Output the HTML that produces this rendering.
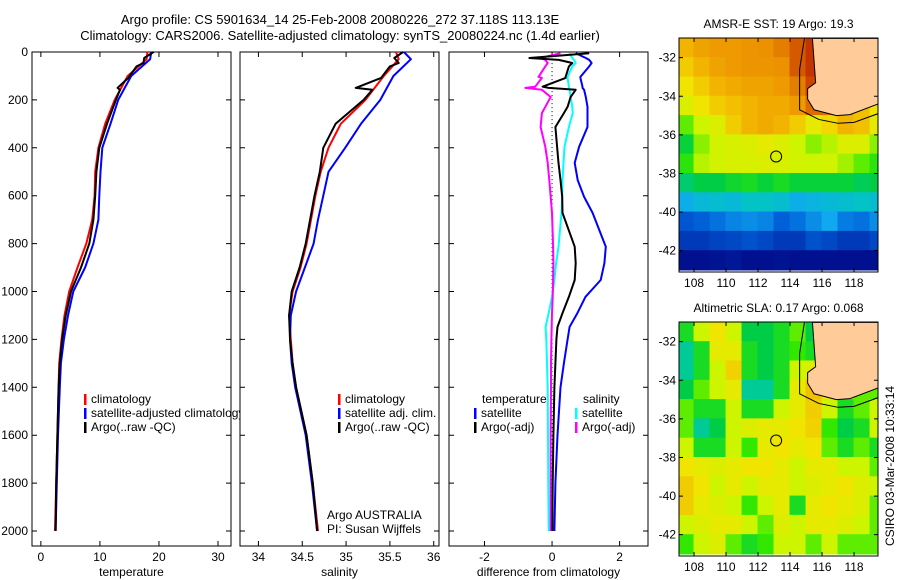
<!DOCTYPE html>
<html><head><meta charset="utf-8">
<style>
html,body{margin:0;padding:0;background:#fff;}
svg{display:block;font-family:"Liberation Sans",sans-serif;}
text{font-size:12px;fill:#000;}
</style></head>
<body>
<svg id="fig" width="900" height="580" viewBox="0 0 900 580" xmlns="http://www.w3.org/2000/svg">
<text x="340" y="24" text-anchor="middle" style="font-size:13px">Argo profile: CS 5901634_14 25-Feb-2008 20080226_272 37.118S 113.13E</text>
<text x="340" y="40" text-anchor="middle" style="font-size:13px">Climatology: CARS2006. Satellite-adjusted climatology: synTS_20080224.nc (1.4d earlier)</text>
<g id="g"></g>
<text transform="translate(894,466) rotate(-90)" text-anchor="middle" style="font-size:12px">CSIRO 03-Mar-2008 10:33:14</text>
</svg>
<script>
// ---------- profile data ----------
const depthClim=[0,30,100,200,300,400,500,600,700,800,900,1000,1100,1200,1300,1400,1600,1800,2000];
const tempClim=[18.05,17.9,14.7,12.5,10.9,9.75,9.2,9.1,8.7,7.7,6.2,4.8,4.0,3.5,3.1,3.0,2.8,2.6,2.4];
const tempSat=[18.7,18.5,15.3,13.1,11.8,10.4,10.1,9.9,9.75,8.9,7.5,5.5,4.6,3.9,3.4,3.2,2.9,2.7,2.5];
const depthArgo=[0,25,46,60,108,150,158,200,300,400,500,600,700,800,900,1000,1100,1200,1300,1400,1600,1800,2000];
const tempArgo=[19.1,17.5,17.4,16.2,14.8,13.0,13.4,12.7,11.2,9.9,9.4,9.2,8.9,8.2,6.8,5.1,4.2,3.6,3.2,3.0,2.8,2.6,2.5];
const salClim=[35.57,35.6,35.43,35.22,34.94,34.8,34.71,34.65,34.6,34.55,34.48,34.39,34.35,34.37,34.39,34.43,34.55,34.62,34.68];
const salSat=[35.66,35.74,35.54,35.39,35.17,34.99,34.8,34.74,34.68,34.63,34.53,34.43,34.37,34.36,34.38,34.42,34.54,34.61,34.67];
const salArgo=[35.65,35.55,35.6,35.5,35.4,35.11,35.3,35.2,34.88,34.74,34.7,34.64,34.59,34.54,34.47,34.38,34.35,34.36,34.39,34.43,34.55,34.62,34.67];
const depthDiff=[5,25,33,46,60,104,108,145,150,158,188,229,255,313,396,463,535,605,672,813,882,952,1022,1090,1148,1200,1300,1400,1600,1800,2000];
const diffTempSat=[0.7,1.0,1.1,1.17,1.1,0.84,0.84,0.9,0.9,0.95,1.0,1.05,1.05,1.05,0.8,0.67,0.76,0.95,1.2,1.59,1.55,1.44,0.99,0.75,0.52,0.46,0.35,0.25,0.16,0.1,0.07];
const diffTempArgo=[1.1,-0.67,0.2,0.6,0.5,0.4,0.4,-0.28,-0.1,0.7,0.55,0.46,0.35,0.1,0.15,0.19,0.25,0.3,0.31,0.67,0.7,0.67,0.5,0.31,0.16,0.13,0.1,0.07,0.04,0.02,0.01];
const diffSalSat=[0.52,0.6,0.65,0.7,0.6,0.46,0.46,0.5,0.5,0.52,0.55,0.6,0.61,0.5,0.37,0.34,0.31,0.3,0.28,0.19,0.12,0.07,0.0,-0.1,-0.19,-0.17,-0.15,-0.13,-0.12,-0.11,-0.1];
const diffSalArgo=[0.25,-0.34,-0.2,-0.13,-0.2,-0.4,-0.3,-0.5,-0.79,-0.3,-0.04,-0.2,-0.3,-0.34,-0.2,-0.13,-0.08,-0.04,0.0,0.03,0.04,0.03,0.02,0.0,-0.01,-0.02,-0.03,-0.03,-0.04,-0.04,-0.04];
const depthTicks=[0,200,400,600,800,1000,1200,1400,1600,1800,2000];
const tempTicks=[0,10,20,30];
const salTicks=[34,34.5,35,35.5,36];
const diffTicks=[-2,0,2];
// ---------- map data (rows lat -31.5..-42.5, cols lon 107..119) ----------
const mapLatTicks=[-32,-34,-36,-38,-40,-42];
const mapLonTicks=[108,110,112,114,116,118];
const sstRows=[
[.7,.74,.76,.76,.77,.78,.8,.84,.88,.95,.95,.95,.9],
[.66,.7,.74,.76,.77,.77,.78,.84,.88,.92,.9,.9,.9],
[.62,.66,.7,.72,.74,.74,.76,.8,.86,.88,.82,.8,.8],
[.58,.62,.66,.68,.7,.72,.72,.76,.82,.82,.74,.68,.62],
[.5,.55,.58,.66,.7,.72,.7,.66,.6,.64,.7,.68,.6],
[.43,.52,.56,.57,.58,.6,.58,.55,.52,.54,.58,.58,.52],
[.47,.54,.56,.57,.57,.58,.57,.56,.55,.56,.53,.5,.47],
[.4,.42,.42,.44,.45,.43,.45,.43,.43,.43,.43,.41,.42],
[.31,.33,.34,.33,.35,.35,.34,.31,.32,.33,.34,.35,.34],
[.2,.22,.24,.26,.27,.26,.22,.24,.27,.3,.25,.24,.27],
[.14,.14,.16,.17,.19,.17,.14,.14,.19,.17,.14,.14,.17],
[.04,.04,.05,.06,.04,.04,.05,.04,.04,.04,.04,.04,.04]];
const slaRows=[
[.45,.55,.62,.55,.42,.42,.45,.5,.42,.45,.5,.5,.5],
[.38,.45,.6,.6,.45,.42,.45,.48,.45,.5,.5,.5,.5],
[.38,.45,.55,.65,.45,.42,.45,.55,.58,.6,.5,.5,.5],
[.42,.5,.55,.6,.38,.38,.45,.6,.68,.6,.55,.5,.5],
[.5,.45,.45,.55,.45,.45,.55,.6,.66,.55,.45,.5,.55],
[.5,.38,.42,.55,.58,.6,.6,.62,.65,.48,.42,.45,.55],
[.55,.45,.45,.55,.48,.6,.62,.6,.62,.5,.45,.5,.45],
[.62,.6,.58,.6,.62,.62,.6,.55,.6,.6,.55,.55,.5],
[.66,.62,.55,.6,.55,.6,.6,.55,.58,.6,.62,.58,.55],
[.66,.6,.58,.55,.48,.55,.6,.45,.6,.62,.6,.58,.5],
[.55,.58,.6,.6,.55,.5,.58,.55,.6,.6,.58,.55,.5],
[.48,.55,.58,.5,.45,.48,.55,.55,.5,.55,.5,.5,.5]];
const landLon=[115.4,115.6,115.1,115.1,115.5,116.9,117.75,119.5,119.5];
const landLat=[-31,-33.3,-33.6,-34.15,-34.7,-35.0,-34.95,-34.4,-31];
const contLon=[114.9,114.6,114.6,115.8,117.0,118.0,119.5];
const contLat=[-31,-32.6,-34.7,-35.2,-35.4,-35.35,-34.9];
const argoLon=113.13, argoLat=-37.12;

const NS="http://www.w3.org/2000/svg";
const G=document.getElementById('g');
function mk(t,a,p){const e=document.createElementNS(NS,t);for(const k in a)e.setAttribute(k,a[k]);(p||G).appendChild(e);return e;}
const yD=d=>52+d*0.2395;
const Y0=52,Y1=546;
const panels=[
 {x0:32,x1:231,v0:-1.5,v1:32.2,name:'temperature-panel',label:'temperature',ticks:tempTicks},
 {x0:240,x1:439,v0:33.79,v1:36.06,name:'salinity-panel',label:'salinity',ticks:salTicks},
 {x0:449,x1:648,v0:-3.05,v1:2.84,name:'difference-panel',label:'difference from climatology',ticks:diffTicks}];
panels.forEach((p,i)=>{
  p.sx=v=>p.x0+(v-p.v0)/(p.v1-p.v0)*(p.x1-p.x0);
  const fr=mk('rect',{x:p.x0,y:Y0,width:p.x1-p.x0,height:Y1-Y0,fill:'none',stroke:'#000','stroke-width':1});
  
  
  p.ticks.forEach(t=>{const x=p.sx(t);
    const l=mk('path',{d:`M${x},${Y1}v-5M${x},${Y0}v5`,stroke:'#000'});
    
    
    const tx=mk('text',{x:x,y:Y1+15,'text-anchor':'middle'});tx.textContent=String(t);
    
    
  });
  depthTicks.forEach(d=>{const y=yD(d);
    const l=mk('path',{d:`M${p.x0},${y}h5M${p.x1},${y}h-5`,stroke:'#000'});
    
    
    if(i==0){const tx=mk('text',{x:28,y:y+4,'text-anchor':'end'});tx.textContent=String(d);
      
      }
  });
  const xl=mk('text',{x:(p.x0+p.x1)/2,y:576,'text-anchor':'middle'});xl.textContent=p.label;
  
  
});
function line(p,vals,deps,col,w,nm){
  const d=vals.map((v,k)=>(k?'L':'M')+p.sx(v).toFixed(1)+','+yD(deps[k]).toFixed(1)).join('');
  const e=mk('path',{d:d,fill:'none',stroke:col,'stroke-width':w,'stroke-linejoin':'round'});
  
  
}
const [P1,P2,P3]=panels;
line(P1,tempClim,depthClim,'#f00',2,'temp-climatology-line');
line(P1,tempSat,depthClim,'#00f',2,'temp-satellite-line');
line(P1,tempArgo,depthArgo,'#000',2,'temp-argo-line');
line(P2,salClim,depthClim,'#f00',2,'sal-climatology-line');
line(P2,salSat,depthClim,'#00f',2,'sal-satellite-line');
line(P2,salArgo,depthArgo,'#000',2,'sal-argo-line');
const z=mk('line',{x1:P3.sx(0),x2:P3.sx(0),y1:yD(30),y2:yD(2000),stroke:'#000','stroke-dasharray':'1,3'});


line(P3,diffTempSat,depthDiff,'#00f',2,'diff-temp-satellite-line');
line(P3,diffSalSat,depthDiff,'#0ff',2,'diff-sal-satellite-line');
line(P3,diffSalArgo,depthDiff,'#f0f',2,'diff-sal-argo-line');
line(P3,diffTempArgo,depthDiff,'#000',2,'diff-temp-argo-line');
// legends
function leg(x,y,col,txt,nm,clip){
  const l=mk('rect',{x:x,y:y-9,width:2.5,height:11,fill:col});
  
  
  const t=mk('text',{x:x+7,y:y});t.textContent=txt;
  
  
  if(clip)t.setAttribute('clip-path','url(#cp1)');
}
const defs=mk('defs',{});const cp=mk('clipPath',{id:'cp1'},defs);mk('rect',{x:0,y:0,width:240,height:580},cp);
leg(84,403,'#f00','climatology','legend-climatology');
leg(84,417,'#00f','satellite-adjusted climatology','legend-satellite',true);
leg(84,431,'#000','Argo(..raw -QC)','legend-argo');
leg(338,403,'#f00','climatology','legend2-climatology');
leg(338,417,'#00f','satellite adj. clim.','legend2-satellite');
leg(338,431,'#000','Argo(..raw -QC)','legend2-argo');
let t=mk('text',{x:482,y:403});t.textContent='temperature';


t=mk('text',{x:583,y:403});t.textContent='salinity';


leg(474,417,'#00f','satellite','legend3-temp-satellite');
leg(474,431,'#000','Argo(-adj)','legend3-temp-argo');
leg(575,417,'#0ff','satellite','legend3-sal-satellite');
leg(575,431,'#f0f','Argo(-adj)','legend3-sal-argo');
t=mk('text',{x:327,y:519});t.textContent='Argo AUSTRALIA';


t=mk('text',{x:327,y:533});t.textContent='PI: Susan Wijffels';


// ---------- maps ----------
const stops=[[0,[0,0,127]],[0.12,[0,48,176]],[0.22,[0,96,216]],[0.3,[16,168,240]],[0.36,[0,200,190]],
 [0.42,[0,205,70]],[0.48,[50,232,0]],[0.55,[205,245,0]],[0.62,[240,228,0]],[0.7,[242,180,0]],
 [0.78,[236,145,0]],[0.86,[205,70,0]],[0.94,[165,0,0]],[1,[130,0,0]]];
function cmap(v){
  for(let k=1;k<stops.length;k++){if(v<=stops[k][0]){const a=stops[k-1],b=stops[k];const f=(v-a[0])/(b[0]-a[0]);
    return 'rgb('+a[1].map((c,m)=>Math.round(c+(b[1][m]-c)*f)).join(',')+')';}}
  return 'rgb(130,0,0)';
}
function drawMap(top,bot,rows,title,nm){
  const x0=679,x1=878;
  const mx=lon=>x0+(lon-107.06)*16, my=lat=>top+(-30.98-lat)*19.3;
  const cid='clip-'+nm;const c=mk('clipPath',{id:cid},defs);mk('rect',{x:x0,y:top,width:x1-x0,height:bot-top},c);
  const g=mk('g',{'clip-path':`url(#${cid})`});
  
  
  rows.forEach((r,i)=>r.forEach((v,j)=>{
    const e=mk('rect',{x:mx(107+j)-0.5,y:my(-31-i)-0.5,width:17,height:20.3,fill:cmap(v)},g);
    
    
  }));
  const land=mk('polygon',{points:landLon.map((l,k)=>mx(l)+','+my(landLat[k])).join(' '),fill:'#ffcc99',stroke:'#000','stroke-width':1},g);
  
  
  const ct=mk('polyline',{points:contLon.map((l,k)=>mx(l)+','+my(contLat[k])).join(' '),fill:'none',stroke:'#000','stroke-width':1},g);
  
  
  const ci=mk('circle',{cx:mx(argoLon),cy:my(argoLat),r:5.5,fill:'none',stroke:'#000'});
  
  
  const fr=mk('rect',{x:x0,y:top,width:x1-x0,height:bot-top,fill:'none',stroke:'#000'});
  
  
  mapLatTicks.forEach(l=>{const y=my(l);
    const tk=mk('path',{d:`M${x0},${y}h4M${x1},${y}h-4`,stroke:'#000'});
    
    
    const tx=mk('text',{x:x0-3,y:y+4,'text-anchor':'end'});tx.textContent=String(l);
    
    });
  mapLonTicks.forEach(l=>{const x=mx(l);
    const tk=mk('path',{d:`M${x},${bot}v-4M${x},${top}v4`,stroke:'#000'});
    
    
    const tx=mk('text',{x:x,y:bot+15,'text-anchor':'middle'});tx.textContent=String(l);
    
    });
  const tt=mk('text',{x:(x0+x1)/2,y:top-10,'text-anchor':'middle'});tt.textContent=title;
  
  
}
drawMap(38,272,sstRows,'AMSR-E SST: 19 Argo: 19.3','sst-map');
drawMap(322,556,slaRows,'Altimetric SLA: 0.17 Argo: 0.068','sla-map');
</script>
</body></html>
